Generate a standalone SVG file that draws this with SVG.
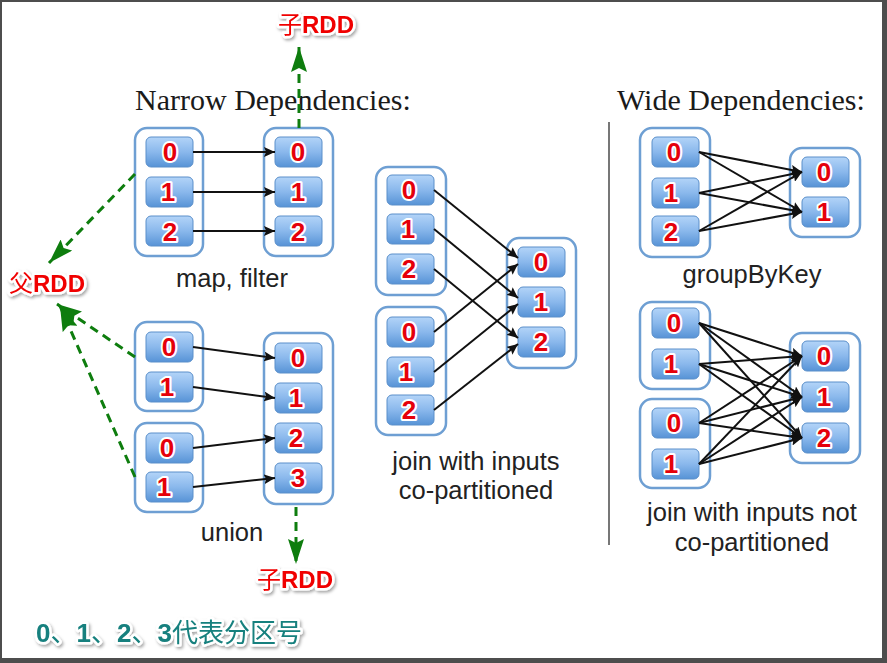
<svg xmlns="http://www.w3.org/2000/svg" width="887" height="663" viewBox="0 0 887 663">
<defs>
<linearGradient id="pg" x1="0" y1="0" x2="0" y2="1">
<stop offset="0" stop-color="#b3d4f8"/>
<stop offset="0.5" stop-color="#8ab8ec"/>
<stop offset="1" stop-color="#5793d6"/>
</linearGradient>
<marker id="ah" markerUnits="userSpaceOnUse" markerWidth="12" markerHeight="10" refX="11" refY="5" orient="auto">
<path d="M0,0 L11,5 L0,10 L2,5 z" fill="#111"/>
</marker>
<marker id="gh" markerUnits="userSpaceOnUse" markerWidth="26" markerHeight="16" refX="25" refY="8" orient="auto">
<path d="M0,0 L25,8 L0,16 L4,8 z" fill="#0e7d0e"/>
</marker>
<filter id="sh" x="-20%" y="-30%" width="140%" height="160%">
<feDropShadow dx="1.5" dy="2" stdDeviation="1.5" flood-color="#000" flood-opacity="0.35"/>
</filter>
<style>
.ctr{fill:#fff;stroke:#6e9fd3;stroke-width:2.5}
.part{fill:url(#pg);stroke:#5a8fca;stroke-width:1}
.num{font-family:"Liberation Sans",Arial,sans-serif;font-weight:bold;font-size:26px;fill:#e5000a;stroke:#fff;stroke-width:4;paint-order:stroke;stroke-linejoin:round;text-anchor:middle}
.lbl{font-family:"Liberation Sans",Arial,sans-serif;font-size:25.5px;fill:#222;text-anchor:middle}
.ttl{font-family:"Liberation Serif","Times New Roman",serif;font-size:30px;fill:#1a1a1a}
.dep{stroke:#111;stroke-width:2;fill:none;marker-end:url(#ah)}
.gd{stroke:#0e7d0e;stroke-width:3;stroke-dasharray:9 6;fill:none;marker-end:url(#gh)}
.rdd{font-family:"Liberation Sans","Noto Sans CJK SC",sans-serif;font-size:24px;font-weight:bold;fill:#f00000;stroke:#fff;stroke-width:5;paint-order:stroke;stroke-linejoin:round;filter:url(#sh)}
.cjk{font-family:"Noto Sans CJK SC",sans-serif;font-weight:normal}
.foot{font-family:"Liberation Sans","Noto Sans CJK SC",sans-serif;font-size:26px;font-weight:bold;fill:#17807e;stroke:#fff;stroke-width:5;paint-order:stroke;stroke-linejoin:round;filter:url(#sh)}
</style>
</defs>
<rect x="0" y="0" width="887" height="663" fill="#fff"/>
<g id="frame" fill="#4d4d4d">
<rect x="0" y="0" width="887" height="2"/>
<rect x="0" y="0" width="2" height="663"/>
<rect x="882" y="0" width="5" height="663"/>
<rect x="0" y="658" width="887" height="5"/>
</g>

<text class="ttl" x="135" y="110">Narrow Dependencies:</text>
<text class="ttl" x="617" y="110">Wide Dependencies:</text>
<line x1="609" y1="122" x2="609" y2="545" stroke="#777" stroke-width="2"/>

<!-- map, filter -->
<g id="map-parent">
<rect class="ctr" x="135" y="128" width="68" height="128" rx="12"/>
<rect class="part" x="146" y="137" width="47" height="30" rx="5"/><text class="num" x="170" y="161">0</text>
<rect class="part" x="146" y="177" width="47" height="30" rx="5"/><text class="num" x="168" y="201">1</text>
<rect class="part" x="146" y="216" width="47" height="30" rx="5"/><text class="num" x="170" y="241">2</text>
</g>
<g id="map-child">
<rect class="ctr" x="264" y="128" width="69" height="128" rx="12"/>
<rect class="part" x="275" y="137" width="47" height="30" rx="5"/><text class="num" x="298" y="161">0</text>
<rect class="part" x="275" y="177" width="47" height="30" rx="5"/><text class="num" x="298" y="201">1</text>
<rect class="part" x="275" y="216" width="47" height="30" rx="5"/><text class="num" x="298" y="241">2</text>
</g>
<text class="lbl" x="232" y="287">map, filter</text>

<!-- union -->
<g id="union-parent-a">
<rect class="ctr" x="135" y="322" width="68" height="89" rx="12"/>
<rect class="part" x="146" y="332" width="47" height="30" rx="5"/><text class="num" x="169" y="356">0</text>
<rect class="part" x="146" y="372" width="47" height="30" rx="5"/><text class="num" x="167" y="396">1</text>
</g>
<g id="union-parent-b">
<rect class="ctr" x="135" y="423" width="68" height="89" rx="12"/>
<rect class="part" x="146" y="433" width="47" height="30" rx="5"/><text class="num" x="167" y="457">0</text>
<rect class="part" x="146" y="472" width="47" height="30" rx="5"/><text class="num" x="164" y="496">1</text>
</g>
<g id="union-child">
<rect class="ctr" x="264" y="333" width="69" height="171" rx="12"/>
<rect class="part" x="275" y="343" width="47" height="30" rx="5"/><text class="num" x="298" y="367">0</text>
<rect class="part" x="275" y="383" width="47" height="30" rx="5"/><text class="num" x="296" y="407">1</text>
<rect class="part" x="275" y="423" width="47" height="30" rx="5"/><text class="num" x="296" y="447">2</text>
<rect class="part" x="275" y="463" width="47" height="30" rx="5"/><text class="num" x="298" y="487">3</text>
</g>
<text class="lbl" x="232" y="541">union</text>

<!-- join co-partitioned -->
<g id="join-co-parent-a">
<rect class="ctr" x="376" y="167" width="70" height="128" rx="12"/>
<rect class="part" x="387" y="175" width="47" height="30" rx="5"/><text class="num" x="409" y="199">0</text>
<rect class="part" x="387" y="214" width="47" height="30" rx="5"/><text class="num" x="408" y="238">1</text>
<rect class="part" x="387" y="254" width="47" height="30" rx="5"/><text class="num" x="409" y="278">2</text>
</g>
<g id="join-co-parent-b">
<rect class="ctr" x="376" y="307" width="70" height="128" rx="12"/>
<rect class="part" x="387" y="317" width="47" height="30" rx="5"/><text class="num" x="409" y="341">0</text>
<rect class="part" x="387" y="357" width="47" height="30" rx="5"/><text class="num" x="406" y="381">1</text>
<rect class="part" x="387" y="395" width="47" height="30" rx="5"/><text class="num" x="409" y="419">2</text>
</g>
<g id="join-co-child">
<rect class="ctr" x="507" y="238" width="69" height="130" rx="12"/>
<rect class="part" x="518" y="247" width="47" height="30" rx="5"/><text class="num" x="541" y="271">0</text>
<rect class="part" x="518" y="287" width="47" height="30" rx="5"/><text class="num" x="541" y="311">1</text>
<rect class="part" x="518" y="327" width="47" height="30" rx="5"/><text class="num" x="541" y="351">2</text>
</g>
<text class="lbl" x="476" y="470">join with inputs</text>
<text class="lbl" x="476" y="499">co-partitioned</text>

<!-- groupByKey -->
<g id="gbk-parent">
<rect class="ctr" x="640" y="128" width="70" height="129" rx="12"/>
<rect class="part" x="652" y="137" width="47" height="30" rx="5"/><text class="num" x="674" y="161">0</text>
<rect class="part" x="652" y="178" width="47" height="30" rx="5"/><text class="num" x="671" y="202">1</text>
<rect class="part" x="652" y="216" width="47" height="30" rx="5"/><text class="num" x="671" y="241">2</text>
</g>
<g id="gbk-child">
<rect class="ctr" x="790" y="148" width="70" height="89" rx="12"/>
<rect class="part" x="802" y="157" width="47" height="30" rx="5"/><text class="num" x="824" y="181">0</text>
<rect class="part" x="802" y="197" width="47" height="30" rx="5"/><text class="num" x="824" y="221">1</text>
</g>
<text class="lbl" x="752" y="283">groupByKey</text>

<!-- join not co-partitioned -->
<g id="join-nc-parent-a">
<rect class="ctr" x="640" y="302" width="70" height="87" rx="12"/>
<rect class="part" x="652" y="308" width="47" height="30" rx="5"/><text class="num" x="674" y="332">0</text>
<rect class="part" x="652" y="349" width="47" height="30" rx="5"/><text class="num" x="671" y="373">1</text>
</g>
<g id="join-nc-parent-b">
<rect class="ctr" x="640" y="399" width="70" height="89" rx="12"/>
<rect class="part" x="652" y="408" width="47" height="30" rx="5"/><text class="num" x="674" y="432">0</text>
<rect class="part" x="652" y="449" width="47" height="30" rx="5"/><text class="num" x="671" y="473">1</text>
</g>
<g id="join-nc-child">
<rect class="ctr" x="790" y="333" width="70" height="130" rx="12"/>
<rect class="part" x="802" y="341" width="47" height="30" rx="5"/><text class="num" x="824" y="365">0</text>
<rect class="part" x="802" y="382" width="47" height="30" rx="5"/><text class="num" x="824" y="406">1</text>
<rect class="part" x="802" y="423" width="47" height="30" rx="5"/><text class="num" x="824" y="447">2</text>
</g>
<text class="lbl" x="752" y="521">join with inputs not</text>
<text class="lbl" x="752" y="551">co-partitioned</text>

<g id="connectors">
<line class="dep" x1="193" y1="152" x2="275" y2="152"/>
<line class="dep" x1="193" y1="192" x2="275" y2="192"/>
<line class="dep" x1="193" y1="231" x2="275" y2="231"/>
<line class="dep" x1="193" y1="347" x2="275" y2="358"/>
<line class="dep" x1="193" y1="387" x2="275" y2="398"/>
<line class="dep" x1="193" y1="448" x2="275" y2="438"/>
<line class="dep" x1="193" y1="487" x2="275" y2="478"/>
<line class="dep" x1="434" y1="190" x2="518" y2="258"/>
<line class="dep" x1="434" y1="229" x2="518" y2="298"/>
<line class="dep" x1="434" y1="269" x2="518" y2="338"/>
<line class="dep" x1="434" y1="332" x2="518" y2="264"/>
<line class="dep" x1="434" y1="372" x2="518" y2="304"/>
<line class="dep" x1="434" y1="410" x2="518" y2="344"/>
<line class="dep" x1="699" y1="152" x2="802" y2="172"/>
<line class="dep" x1="699" y1="152" x2="802" y2="212"/>
<line class="dep" x1="699" y1="193" x2="802" y2="172"/>
<line class="dep" x1="699" y1="193" x2="802" y2="212"/>
<line class="dep" x1="699" y1="231" x2="802" y2="172"/>
<line class="dep" x1="699" y1="231" x2="802" y2="212"/>
<line class="dep" x1="699" y1="323" x2="802" y2="356"/>
<line class="dep" x1="699" y1="323" x2="802" y2="397"/>
<line class="dep" x1="699" y1="323" x2="802" y2="438"/>
<line class="dep" x1="699" y1="364" x2="802" y2="356"/>
<line class="dep" x1="699" y1="364" x2="802" y2="397"/>
<line class="dep" x1="699" y1="364" x2="802" y2="438"/>
<line class="dep" x1="699" y1="423" x2="802" y2="356"/>
<line class="dep" x1="699" y1="423" x2="802" y2="397"/>
<line class="dep" x1="699" y1="423" x2="802" y2="438"/>
<line class="dep" x1="699" y1="464" x2="802" y2="356"/>
<line class="dep" x1="699" y1="464" x2="802" y2="397"/>
<line class="dep" x1="699" y1="464" x2="802" y2="438"/>
<line class="gd" x1="299" y1="128" x2="299" y2="47"/>
<line class="gd" x1="135" y1="174" x2="49" y2="263"/>
<line class="gd" x1="135" y1="357" x2="57" y2="304"/>
<line class="gd" x1="135" y1="477" x2="60" y2="306"/>
<line class="gd" x1="296" y1="507" x2="296" y2="564"/>
</g>

<g id="labels">
<text class="rdd" x="278" y="33"><tspan class="cjk">子</tspan>RDD</text>
<text class="rdd" x="9" y="292"><tspan class="cjk">父</tspan>RDD</text>
<text class="rdd" x="257" y="588"><tspan class="cjk">子</tspan>RDD</text>
<text class="foot" x="36" y="642">0<tspan class="cjk">、</tspan>1<tspan class="cjk">、</tspan>2<tspan class="cjk">、</tspan>3<tspan class="cjk">代表分区号</tspan></text>
</g>
</svg>
